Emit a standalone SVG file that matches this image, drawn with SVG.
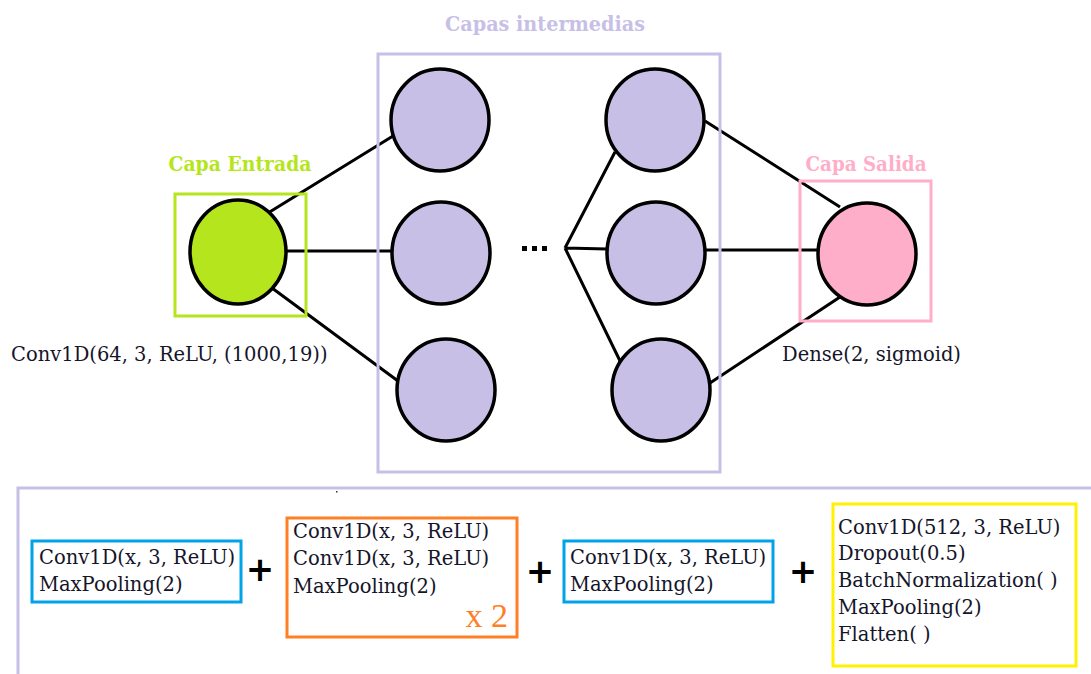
<svg xmlns="http://www.w3.org/2000/svg" width="1091" height="674" viewBox="0 0 1091 674">
<style>
.t{font-family:"DejaVu Serif","Liberation Serif",serif;font-size:19.5px;fill:#15152a}
.h{font-family:"DejaVu Serif","Liberation Serif",serif;font-size:19.5px;font-weight:bold;text-anchor:middle}
.n{stroke:#000;stroke-width:3.5}
.ln{stroke:#000;stroke-width:3;fill:none}
.plus{font-family:"DejaVu Sans","Liberation Sans",sans-serif;font-size:34px;font-weight:bold;fill:#000;text-anchor:middle}
</style>
<rect width="1091" height="674" fill="#fff"/>
<g id="connectors">
<path class="ln" d="M268,213 L393,136 M286,251 L392,251 M272,288 L398,381"/>
<path class="ln" d="M565,248 L615,152 M565,248 L607,249 M565,248 L622,365"/>
<path class="ln" d="M705,121 L840,207 M706,250 L818,250 M710,383 L840,297"/>
</g>
<g id="input-layer">
<rect x="175" y="194" width="131" height="122" fill="none" stroke="#b5e61d" stroke-width="3"/>
<ellipse class="n" cx="238" cy="252" rx="48" ry="52" fill="#b5e61d"/>
<text class="h" x="240" y="171" fill="#b5e61d" textLength="143" lengthAdjust="spacingAndGlyphs">Capa Entrada</text>
<text class="t" x="11" y="361">Conv1D(64, 3, ReLU, (1000,19))</text>
</g>
<g id="hidden-layers">
<rect x="378" y="54" width="342" height="418" fill="none" stroke="#c8bfe7" stroke-width="3"/>
<text class="h" x="545" y="31" fill="#c8bfe7" textLength="200" lengthAdjust="spacingAndGlyphs">Capas intermedias</text>
<ellipse class="n" cx="440" cy="120" rx="49" ry="51" fill="#c8bfe7"/>
<ellipse class="n" cx="441" cy="253" rx="49" ry="51" fill="#c8bfe7"/>
<ellipse class="n" cx="446" cy="390" rx="49" ry="51" fill="#c8bfe7"/>
<ellipse class="n" cx="655" cy="120" rx="49" ry="51" fill="#c8bfe7"/>
<ellipse class="n" cx="656" cy="253" rx="49" ry="51" fill="#c8bfe7"/>
<ellipse class="n" cx="661" cy="390" rx="49" ry="51" fill="#c8bfe7"/>
<rect x="522" y="246" width="5" height="5" fill="#000"/>
<rect x="532" y="246" width="5" height="5" fill="#000"/>
<rect x="542" y="246" width="5" height="5" fill="#000"/>
</g>
<g id="output-layer">
<rect x="800" y="181" width="131" height="140" fill="none" stroke="#ffaec9" stroke-width="3"/>
<ellipse class="n" cx="867" cy="254" rx="49" ry="51" fill="#ffaec9"/>
<text class="h" x="866" y="171" fill="#ffaec9" textLength="121" lengthAdjust="spacingAndGlyphs">Capa Salida</text>
<text class="t" x="782" y="361">Dense(2, sigmoid)</text>
</g>
<g id="architecture">
<rect x="18" y="488" width="1090" height="200" fill="none" stroke="#c8bfe7" stroke-width="3"/>
<rect x="336" y="491" width="1.5" height="1.5" fill="#333"/>
<g id="block1">
<rect x="32" y="541" width="209" height="61" fill="none" stroke="#00a2e8" stroke-width="3"/>
<text class="t" x="39" y="564">Conv1D(x, 3, ReLU)</text>
<text class="t" x="39" y="591">MaxPooling(2)</text>
</g>
<text class="plus" x="260" y="581">+</text>
<g id="block2">
<rect x="287" y="518" width="230" height="119" fill="none" stroke="#ff7f27" stroke-width="3"/>
<text class="t" x="293" y="538">Conv1D(x, 3, ReLU)</text>
<text class="t" x="293" y="565">Conv1D(x, 3, ReLU)</text>
<text class="t" x="293" y="593">MaxPooling(2)</text>
<text x="508" y="627" text-anchor="end" font-family="Liberation Serif, serif" font-size="34" fill="#ff7f27">x 2</text>
</g>
<text class="plus" x="540" y="583">+</text>
<g id="block3">
<rect x="564" y="541" width="209" height="61" fill="none" stroke="#00a2e8" stroke-width="3"/>
<text class="t" x="570" y="564">Conv1D(x, 3, ReLU)</text>
<text class="t" x="570" y="591">MaxPooling(2)</text>
</g>
<text class="plus" x="803" y="583">+</text>
<g id="block4">
<rect x="833" y="504" width="243" height="162" fill="none" stroke="#fff200" stroke-width="3"/>
<text class="t" x="838" y="534">Conv1D(512, 3, ReLU)</text>
<text class="t" x="838" y="560">Dropout(0.5)</text>
<text class="t" x="838" y="587">BatchNormalization( )</text>
<text class="t" x="838" y="614">MaxPooling(2)</text>
<text class="t" x="838" y="641">Flatten( )</text>
</g>
</g>
</svg>
